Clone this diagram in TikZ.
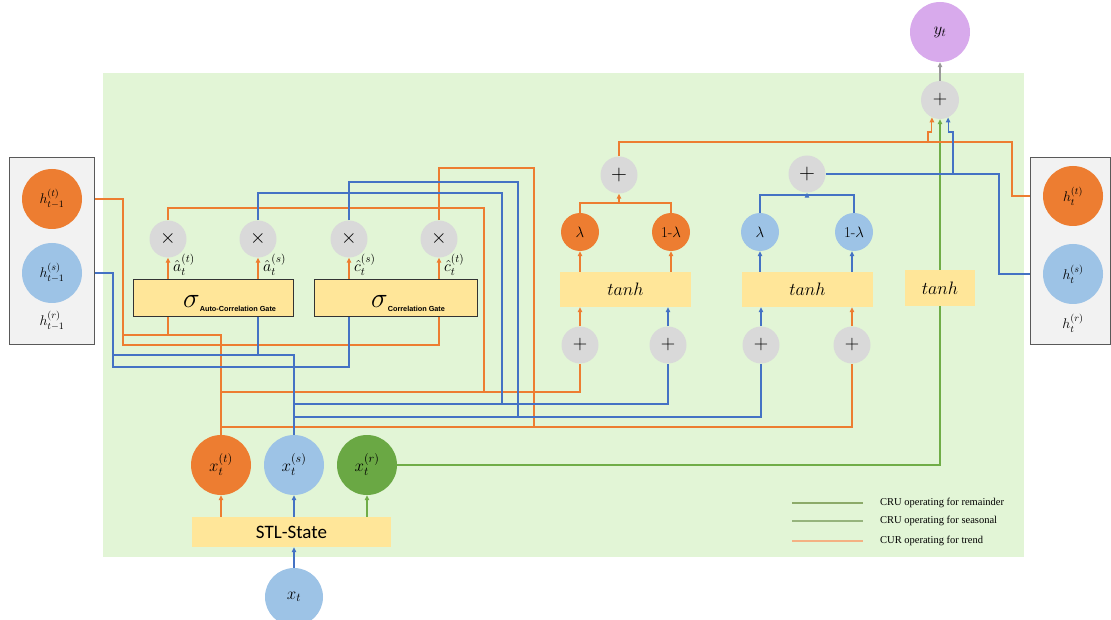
\documentclass[tikz,border=0pt]{standalone}
\usepackage{fix-cm}
\usepackage{amsmath}
\usepackage{fontspec}
\newfontfamily\carlito{Carlito}
\newfontfamily\arialf{Liberation Sans}
\newfontfamily\timesf{Liberation Serif}
\usetikzlibrary{arrows.meta}
\pgfdeclarelayer{back}\pgfdeclarelayer{lines}
\pgfsetlayers{back,lines,main}
\definecolor{bgg}{RGB}{226,245,214}
\definecolor{orc}{RGB}{237,125,49}
\definecolor{blc}{RGB}{157,195,230}
\definecolor{grc}{RGB}{106,168,68}
\definecolor{gyc}{RGB}{217,217,217}
\definecolor{yel}{RGB}{255,230,153}
\definecolor{pnl}{RGB}{242,242,242}
\definecolor{pur}{RGB}{216,170,236}
\definecolor{ol}{RGB}{237,125,49}
\definecolor{bl}{RGB}{68,114,196}
\definecolor{gl}{RGB}{112,173,71}
\definecolor{lg1}{RGB}{140,170,105}
\definecolor{lg2}{RGB}{150,180,125}
\definecolor{lg3}{RGB}{244,177,131}
\tikzset{
  cbig/.style={circle,inner sep=0pt,minimum size=60pt,font=\fontsize{14}{16}\selectfont},
  csmall/.style={circle,inner sep=0pt,minimum size=37pt,fill=gyc,font=\fontsize{20}{20}\selectfont},
  lam/.style={circle,inner sep=0pt,minimum size=38pt,font=\fontsize{15}{16}\selectfont},
  gatebox/.style={draw=black!80,line width=1pt,fill=yel,inner sep=0pt},
  tbox/.style={fill=yel,inner sep=0pt,minimum height=35pt,font=\fontsize{18}{20}\selectfont},
  panelbox/.style={draw=black!65,line width=0.9pt,fill=pnl,inner sep=0pt},
  oline/.style={draw=ol,line width=1.2pt},
  bline/.style={draw=bl,line width=1.2pt},
  gline/.style={draw=gl,line width=1.2pt},
  gyline/.style={draw=black!40,line width=1.2pt},
  arr/.style={-{Triangle[length=5pt,width=4.5pt]}},
  lab/.style={anchor=west,inner sep=0pt,font=\fontsize{16}{18}\selectfont},
  legtxt/.style={anchor=west,inner sep=0pt,font=\timesf\fontsize{10.5}{12}\selectfont}
}
\begin{document}
\begin{tikzpicture}[x=1pt,y=-1pt]
\useasboundingbox (0,0) rectangle (1111,620);
\begin{pgfonlayer}{back}
\fill[bgg] (103,73) rectangle (1024,557);
\end{pgfonlayer}
% panels
\node[panelbox,minimum width=85pt,minimum height=187pt] (lp) at (51.5,250.5) {};
\node[panelbox,minimum width=80pt,minimum height=187pt] (rp) at (1070,250.5) {};
% hidden states
\node[cbig,fill=orc] (hto) at (52,199) {$h_{t-1}^{(t)}$};
\node[cbig,fill=blc] (hso) at (52,273) {$h_{t-1}^{(s)}$};
\node[font=\fontsize{14}{16}\selectfont] (hro) at (52,321) {$h_{t-1}^{(r)}$};
\node[cbig,fill=orc] (htn) at (1073,196) {$h_t^{(t)}$};
\node[cbig,fill=blc] (hsn) at (1073,274) {$h_t^{(s)}$};
\node[font=\fontsize{14}{16}\selectfont] (hrn) at (1073,323) {$h_t^{(r)}$};
% output
\node[cbig,fill=pur,font=\fontsize{17}{18}\selectfont] (yt) at (940,32) {$y_t$};
\node[csmall,minimum size=38pt] (pout) at (940,100) {$+$};
% multiply circles
\node[csmall] (m1) at (168,239) {$\times$};
\node[csmall] (m2) at (258,239) {$\times$};
\node[csmall] (m3) at (349,239) {$\times$};
\node[csmall] (m4) at (439,239) {$\times$};
\node[lab] (la1) at (173,265) {$\hat{a}_t^{(t)}$};
\node[lab] (la2) at (263,265) {$\hat{a}_t^{(s)}$};
\node[lab] (la3) at (354,265) {$\hat{c}_t^{(s)}$};
\node[lab] (la4) at (444,265) {$\hat{c}_t^{(t)}$};
% gates
\node[gatebox,minimum width=160pt,minimum height=37pt] (ag) at (213,298.5) {};
\node[gatebox,minimum width=163pt,minimum height=37pt] (cg) at (395.5,298.5) {};
\node[anchor=base west,inner sep=0pt] (agl) at (183,308) {\fontsize{28}{28}\selectfont$\sigma$\raisebox{-4pt}{\arialf\bfseries\fontsize{7.3}{8}\selectfont Auto-Correlation Gate}};
\node[anchor=base west,inner sep=0pt] (cgl) at (371,308) {\fontsize{28}{28}\selectfont$\sigma$\raisebox{-4pt}{\arialf\bfseries\fontsize{7.3}{8}\selectfont Correlation Gate}};
% tanh blocks
\node[tbox,minimum width=131pt] (tb1) at (625.5,289.5) {$tanh$};
\node[tbox,minimum width=131pt] (tb2) at (807.5,289.5) {$tanh$};
\node[tbox,minimum width=70pt,minimum height=36pt] (tb3) at (940,288) {$tanh$};
% lower plus
\node[csmall] (q1) at (580,345) {$+$};
\node[csmall] (q2) at (668,345) {$+$};
\node[csmall] (q3) at (761,345) {$+$};
\node[csmall] (q4) at (852,345) {$+$};
% lambdas
\node[lam,fill=orc] (ol1) at (580,232) {$\lambda$};
\node[lam,fill=orc] (ol2) at (671,232) {1-$\lambda$};
\node[lam,fill=blc] (bl1) at (760,232) {$\lambda$};
\node[lam,fill=blc] (bl2) at (854,232) {1-$\lambda$};
\node[csmall,minimum size=37pt,font=\fontsize{22}{22}\selectfont] (op) at (619,175) {$+$};
\node[csmall,minimum size=37pt,font=\fontsize{22}{22}\selectfont] (bp) at (807,174) {$+$};
% inputs
\node[cbig,fill=orc,font=\fontsize{17}{18}\selectfont] (xt) at (221,465) {$x_t^{(t)}$};
\node[cbig,fill=blc,font=\fontsize{17}{18}\selectfont] (xs) at (294,465) {$x_t^{(s)}$};
\node[cbig,fill=grc,font=\fontsize{17}{18}\selectfont] (xr) at (367,465) {$x_t^{(r)}$};
\node[fill=yel,inner sep=0pt,minimum width=199pt,minimum height=30pt,font=\carlito\fontsize{19}{20}\selectfont] (stl) at (291.5,532) {STL-State};
\node[cbig,fill=blc,minimum size=58pt,font=\fontsize{17}{18}\selectfont] (xin) at (294,597) {$x_t$};
% legend
\draw[lg1,line width=1.2pt] (792,503) -- (863,503);
\draw[lg2,line width=1.2pt] (792,521) -- (863,521);
\draw[lg3,line width=1.6pt] (792,541) -- (863,541);
\node[legtxt] (lt1) at (880,503) {CRU operating for remainder};
\node[legtxt] (lt2) at (880,521) {CRU operating for seasonal};
\node[legtxt] (lt3) at (880,541) {CUR operating for trend};

\begin{pgfonlayer}{lines}
% trend (orange) wiring
\draw[oline] (hto.east) -- (123,199) -- (123,345) -- (439,345) -- (cg.south -| m4);
\draw[oline] (xt.north) -- (221,335) -- (123,335);
\draw[oline] (168,335) -- (ag.south -| m1);
\draw[oline] (221,392) -| (q1.south);
\draw[oline] (221,427) -| (q4.south);
\draw[oline] (m1.north) |- (484,208) -- (484,392);
\draw[oline] (m4.north) |- (534,168) -- (534,427);
% seasonal (blue) wiring
\draw[bline] (hso.east) -- (113,273) -- (113,367) -| (cg.south -| m3);
\draw[bline] (xs.north) -- (294,355) -- (113,355);
\draw[bline] (ag.south -| m2) -- (258,355);
\draw[bline] (294,404) -| (q2.south);
\draw[bline] (294,417) -| (q3.south);
\draw[bline] (m2.north) |- (502,193) -- (502,404);
\draw[bline] (m3.north) |- (518,182) -- (518,417);
% remainder (green)
\draw[gline,arr] (xr.east) -| (pout.south);
% upper outputs
\draw[oline,arr] (op.north) |- (1012,142) |- (htn.west);
\draw[oline,arr] (928,142) -- (928,132) -| (pout.-115);
\draw[bline,arr] (bp.east) -- (999,174) |- (hsn.west);
\draw[bline,arr] (953,174) -- (953,132) -| (pout.-65);
\draw[gyline,arr] (pout.north) -- (yt.south);
% lambda merges
\draw[oline] (ol1.north) -- (580,203) -- (671,203) -- (ol2.north);
\draw[oline,arr] (619,203) -- (op.south);
\draw[bline] (bl1.north) -- (760,195) -- (854,195) -- (bl2.north);
\draw[bline,arr] (807,195) -- (bp.south);
% tanh to lambda
\draw[oline,arr] (tb1.north -| ol1) -- (ol1.south);
\draw[oline,arr] (tb1.north -| ol2) -- (ol2.south);
\draw[bline,arr] (tb2.north -| bl1) -- (bl1.south);
\draw[bline,arr] (tb2.north -| q4) -- (q4 |- bl2.south);
% plus to tanh
\draw[oline,arr] (q1.north) -- (tb1.south -| q1);
\draw[bline,arr] (q2.north) -- (tb1.south -| q2);
\draw[bline,arr] (q3.north) -- (tb2.south -| q3);
\draw[oline,arr] (q4.north) -- (tb2.south -| q4);
% gates to multiply
\draw[oline,arr] (ag.north -| m1) -- (m1.south);
\draw[oline,arr] (ag.north -| m2) -- (m2.south);
\draw[oline,arr] (cg.north -| m3) -- (m3.south);
\draw[oline,arr] (cg.north -| m4) -- (m4.south);
% STL to components
\draw[oline,arr] (stl.north -| xt) -- (xt.south);
\draw[bline,arr] (stl.north -| xs) -- (xs.south);
\draw[gline,arr] (stl.north -| xr) -- (xr.south);
\draw[bline,arr] (xin.north) -- (stl.south -| xin);
\end{pgfonlayer}
\end{tikzpicture}
\end{document}
